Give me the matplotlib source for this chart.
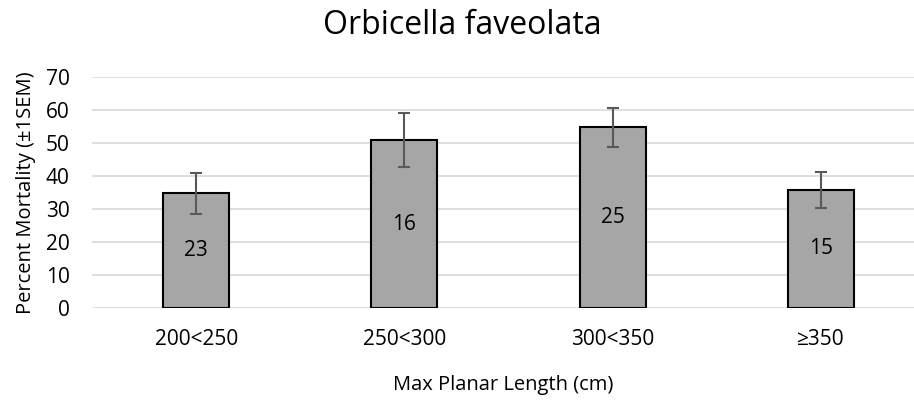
import matplotlib
matplotlib.use("Agg")
import matplotlib.pyplot as plt

plt.rcParams['font.family'] = ['Open Sans', 'DejaVu Sans']

categories = ["200<250", "250<300", "300<350", "≥350"]
mortality = [34.8, 50.9, 54.8, 35.8]
sem = [6.2, 8.1, 5.9, 5.45]
n_colonies = ["23", "16", "25", "15"]

fig = plt.figure(figsize=(9.14, 4.0), dpi=100)
ax = fig.add_axes([92/914, 92/400, (914-92)/914, (308-77)/400])

x = range(len(categories))
bars = ax.bar(x, mortality, width=0.317, color="#A6A6A6", edgecolor="black",
              linewidth=1.5, zorder=3)
ax.errorbar(x, mortality, yerr=sem, fmt="none", ecolor="#595959",
            elinewidth=1.5, capsize=4.5, capthick=1.5, zorder=4)
ax.bar_label(bars, labels=n_colonies, label_type="center", fontsize=15)

ax.set_xlim(-0.5, 3.446)
ax.set_ylim(0, 70)
ax.set_yticks(range(0, 71, 10))
ax.set_xticks(list(x))
ax.set_xticklabels(categories)
ax.tick_params(axis="both", length=0, labelsize=15)
ax.tick_params(axis="y", pad=16)
ax.tick_params(axis="x", pad=15)
ax.grid(axis="y", color="#D9D9D9", linewidth=1.2, zorder=0)
for s in ax.spines.values():
    s.set_visible(False)

ax.set_xlabel("Max Planar Length (cm)", fontsize=14.5, labelpad=18)
ax.set_ylabel("Percent Mortality (±1SEM)", fontsize=14.5, labelpad=7)
fig.text(462/914, 1 - 25/400, "Orbicella faveolata", fontsize=23,
         ha="center", va="center")

fig.savefig("out.png", dpi=100)
